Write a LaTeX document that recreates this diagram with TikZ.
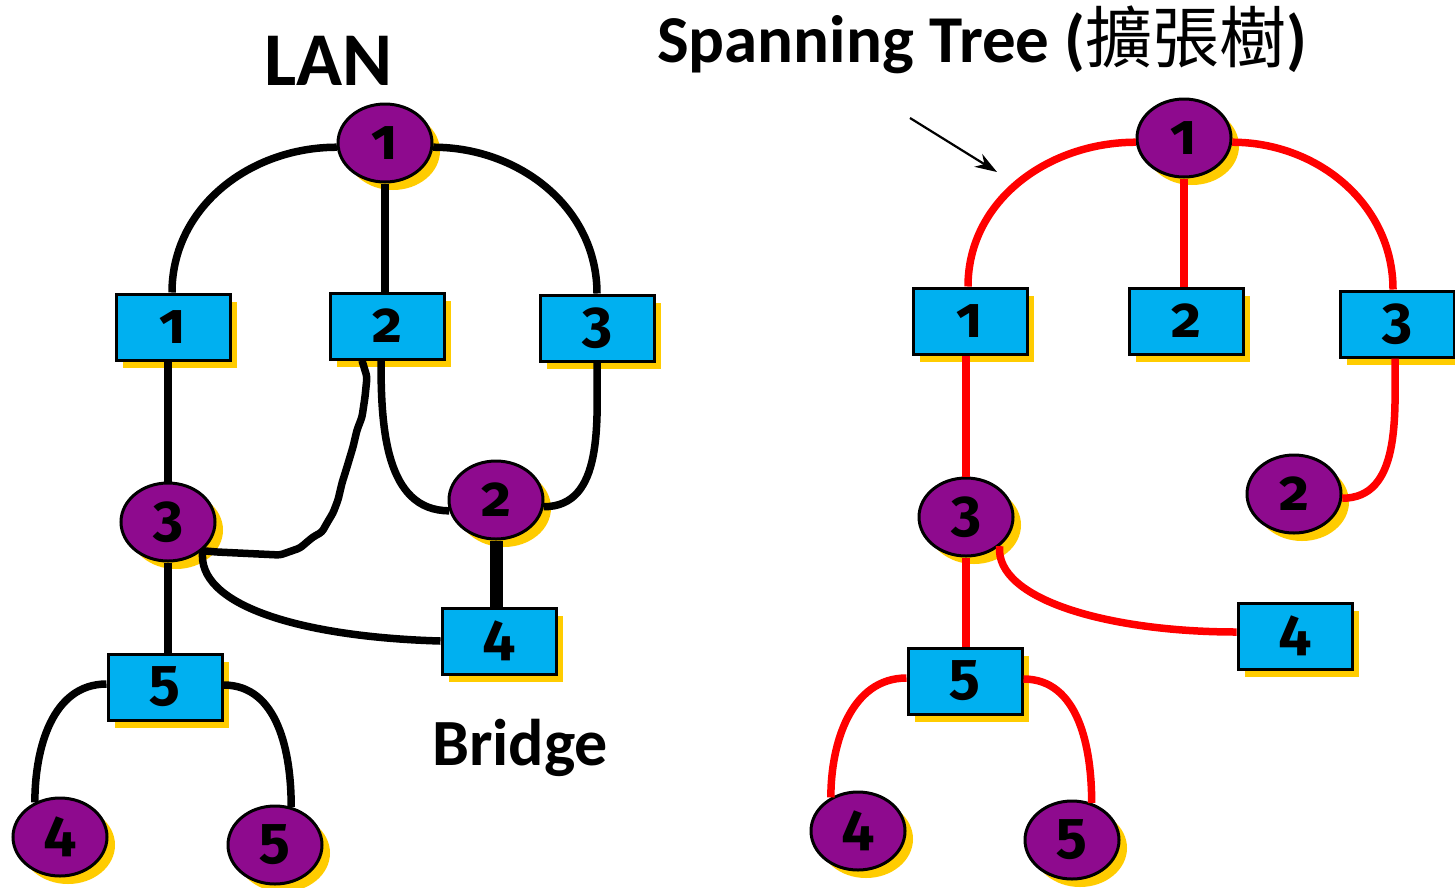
\documentclass[tikz,border=0pt]{standalone}
\usepackage{fontspec}
\setmainfont{Carlito}
\newfontfamily\digitfont{Fira Sans}[Numbers=OldStyle]
\newfontfamily\cjk{Noto Sans CJK TC}
\usetikzlibrary{shapes.geometric,shadows,arrows.meta}
\definecolor{nodepurple}{HTML}{8E0A8E}
\definecolor{bridgeblue}{HTML}{00B0F0}
\definecolor{shadowyellow}{HTML}{FFCC00}
\definecolor{treered}{HTML}{FF0000}
\tikzset{
  lannode/.style={ellipse, draw=black, line width=3pt, fill=nodepurple,
    minimum width=94pt, minimum height=78pt, inner sep=0pt,
    font=\digitfont\bfseries\fontsize{58}{58}\selectfont,
    general shadow={fill=shadowyellow, shadow xshift=8pt, shadow yshift=-8pt}},
  bridgenode/.style={rectangle, draw=black, line width=3pt, fill=bridgeblue,
    minimum width=114pt, minimum height=66pt, inner sep=0pt,
    font=\digitfont\bfseries\fontsize{58}{58}\selectfont,
    general shadow={fill=shadowyellow, shadow xshift=7pt, shadow yshift=-8pt}},
  blk/.style={draw=black, line width=7.5pt},
  rd/.style={draw=treered, line width=7.5pt},
  titletext/.style={font=\bfseries\fontsize{72}{72}\selectfont, inner sep=0pt, anchor=base west}
}
\begin{document}
\begin{tikzpicture}[x=1pt,y=1pt]
\useasboundingbox (0,0) rectangle (1455,-887);

% ---------------- LAN (left) ----------------
\node[titletext, font=\bfseries\fontsize{76}{76}\selectfont] (lan) at (264,-85) {LAN};
\node[titletext, font=\bfseries\fontsize{66}{66}\selectfont] (bridge) at (432,-765) {Bridge};

\node[lannode] (L1) at (385,-143) {1};
\node[bridgenode] (B1) at (173,-327) {1};
\node[bridgenode] (B2) at (387,-326) {2};
\node[bridgenode] (B3) at (597,-328) {3};
\node[lannode] (L3) at (168,-522) {3};
\node[lannode] (L2) at (496,-500) {2};
\node[bridgenode] (B4) at (499,-641) {4};
\node[bridgenode] (B5) at (165,-687) {5};
\node[lannode] (L4) at (60,-837) {4};
\node[lannode] (L5) at (275,-845) {5};

\draw[blk] (L1.185) to[out=180,in=90] ([xshift=-1pt]B1.north);
\draw[blk] (L1.south) -- (L1.south |- B2.north);
\draw[blk] (L1.-5) to[out=0,in=90] (B3.north);
\draw[blk] (L3.north |- B1.south) -- (L3.north);
\draw[blk] ([xshift=-6pt]B2.south) to[out=-90,in=180] (L2.193);
\draw[blk] (B3.south) to[out=-90,in=0] (L2.-8);
\draw[draw=black, line width=13pt] (L2.south) -- (L2.south |- B4.north);
\draw[blk, line join=round, rounded corners=3pt] ([xshift=-25pt]B2.south) -- (367,-377) -- (365,-397) -- (362,-417) -- (357,-430) -- (353,-447) -- (347,-467) -- (342,-483) -- (338,-500) -- (333,-513) -- (327,-523) -- (322,-532) -- (313,-537) -- (307,-542) -- (300,-548) -- (280,-555) -- (217,-552) -- (L3.-40);
\draw[blk] (L3.-39) .. controls (195,-605) and (300,-637) .. (B4.west);
\draw[blk] (L3.south) -- (L3.south |- B5.north);
\draw[blk] ([yshift=3pt]B5.west) to[out=180,in=90] (L4.126);
\draw[blk] ([yshift=2pt]B5.east) to[out=0,in=90] (L5.67);

% ---------------- Spanning tree (right) ----------------
\node[titletext, font=\bfseries\fontsize{67}{67}\selectfont] (st) at (657,-62) {Spanning Tree ({\cjk\mdseries 擴張樹})};
\coordinate (ptail) at (910,-118);
\coordinate (phead) at (997,-172);
\draw[line width=2.2pt, -{Stealth[length=22pt,width=15pt]}] (ptail) -- (phead);

\node[lannode] (R1) at (1184,-138) {1};
\node[bridgenode] (RB1) at (970,-321) {1};
\node[bridgenode] (RB2) at (1186,-321) {2};
\node[bridgenode] (RB3) at (1397,-324) {3};
\node[lannode] (R2) at (1294,-494) {2};
\node[lannode] (R3) at (966,-517) {3};
\node[bridgenode] (RB4) at (1295,-636) {4};
\node[bridgenode] (RB5) at (965,-681) {5};
\node[lannode] (R4) at (858,-831) {4};
\node[lannode] (R5) at (1072,-840) {5};

\draw[rd] (R1.185) to[out=180,in=90] ([xshift=-2pt]RB1.north);
\draw[rd] (R1.south) -- (R1.south |- RB2.north);
\draw[rd] (R1.-5) to[out=0,in=90] ([xshift=-4pt]RB3.north);
\draw[rd] (R3.north |- RB1.south) -- (R3.north);
\draw[rd] ([xshift=-2pt]RB3.south) to[out=-90,in=0] (R2.-5);
\draw[rd] (R3.-41) .. controls (995,-600) and (1110,-632) .. ([yshift=4pt]RB4.west);
\draw[rd] (R3.south) -- (R3.south |- RB5.north);
\draw[rd] ([yshift=3pt]RB5.west) to[out=180,in=90] (R4.129);
\draw[rd] ([yshift=2pt]RB5.east) to[out=0,in=90] (R5.62);
\end{tikzpicture}
\end{document}
